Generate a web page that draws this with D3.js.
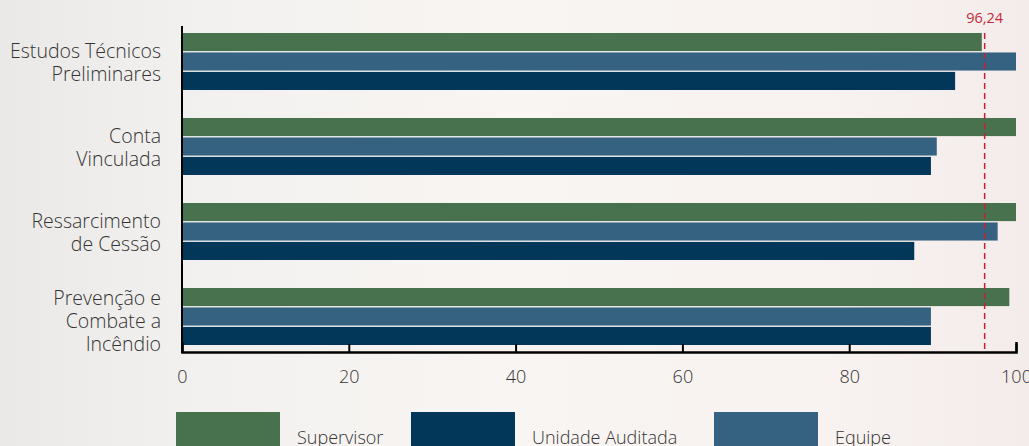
<!DOCTYPE html>
<html><head><meta charset="utf-8">
<script src="https://cdn.jsdelivr.net/npm/d3@7"></script>
<style>
html,body{margin:0;padding:0;width:1029px;height:446px;overflow:hidden;}
body{background:linear-gradient(90deg,#ebe9e7 0%,#f3f1ef 20%,#f8f5f3 50%,#f8f2f0 80%,#f3ecea 100%);}
svg{display:block;font-family:"Open Sans",sans-serif;font-weight:300;}
</style></head>
<body>
<svg id="c" width="1029" height="446"></svg>
<script>
const categories = [["Estudos Técnicos","Preliminares"],["Conta","Vinculada"],["Ressarcimento","de Cessão"],["Prevenção e","Combate a","Incêndio"]];
const categoryKeys = ["ETP","CV","RC","PCI"];
const seriesNames = ["Supervisor","Equipe","Unidade Auditada"];
const supervisor = [95.9, 100, 100, 99.2];
const equipe = [100, 90.5, 97.8, 89.8];
const unidade = [92.7, 89.8, 87.8, 89.8];
const xTicks = [0,20,40,60,80,100];
const refValue = 96.24;
const refLabel = "96,24";
const legendOrder = ["Supervisor","Unidade Auditada","Equipe"];
const colors = {"Supervisor":"#48714e","Equipe":"#356281","Unidade Auditada":"#02375a"};

const values = {"Supervisor":supervisor,"Equipe":equipe,"Unidade Auditada":unidade};
const svg = d3.select("#c");
const txtColor = "#333333";
const fam = "'Open Sans', sans-serif";

const x = d3.scaleLinear().domain([0,100]).range([182,1016]);
const y0 = d3.scaleBand().domain(categoryKeys).range([33,345]).paddingInner(28/85).paddingOuter(0);
const y1 = d3.scaleBand().domain(seriesNames).range([0,y0.bandwidth()]).paddingInner(0.07).paddingOuter(0);

const g = svg.append("g");
categoryKeys.forEach((k,i)=>{
  seriesNames.forEach(s=>{
    g.append("rect")
      .attr("x",x(0)).attr("y",y0(k)+y1(s))
      .attr("width",x(values[s][i])-x(0)).attr("height",y1.bandwidth())
      .attr("fill",colors[s]);
  });
});

// reference line
svg.append("line").attr("x1",x(refValue)).attr("x2",x(refValue))
  .attr("y1",33).attr("y2",352)
  .attr("stroke","#c8202f").attr("stroke-width",1.5).attr("stroke-dasharray","6,4");
svg.append("text").attr("x",x(refValue)).attr("y",23).attr("text-anchor","middle")
  .attr("fill","#c42a3a").attr("font-size",14.5).style("font-weight",400).text(refLabel);

// x axis
const xAxis = d3.axisBottom(x).tickValues(xTicks).tickSizeInner(-8).tickSizeOuter(-10).tickPadding(18);
const ax = svg.append("g").attr("transform","translate(0,352)").call(xAxis);
ax.select(".domain").attr("stroke","#000").attr("stroke-width",2.5);
ax.selectAll(".tick line").attr("stroke","#000").attr("stroke-width",2);
ax.selectAll(".tick text").attr("font-size",18).attr("fill",txtColor).style("font-family",fam).style("font-weight",300);

// y axis line
svg.append("line").attr("x1",x(0)).attr("x2",x(0)).attr("y1",26).attr("y2",353)
  .attr("stroke","#000").attr("stroke-width",2);

// category labels
categoryKeys.forEach((k,i)=>{
  const lines = categories[i];
  const lh = 23;
  const cy = y0(k)+y0.bandwidth()/2 + (lines.length===3?5:1);
  const t = svg.append("text").attr("text-anchor","end").attr("font-size",19.5).attr("fill",txtColor);
  lines.forEach((l,j)=>{
    t.append("tspan").attr("x",161).attr("y",cy + (j-(lines.length-1)/2)*lh).attr("dy","0.35em").text(l);
  });
});

// legend
const legX = {"Supervisor":176,"Unidade Auditada":411,"Equipe":714};
legendOrder.forEach(s=>{
  svg.append("rect").attr("x",legX[s]).attr("y",412).attr("width",104).attr("height",40).attr("fill",colors[s]);
  svg.append("text").attr("x",legX[s]+121).attr("y",438).attr("dy","0.35em").attr("font-size",18).attr("fill",txtColor).text(s);
});
</script>
</body></html>
